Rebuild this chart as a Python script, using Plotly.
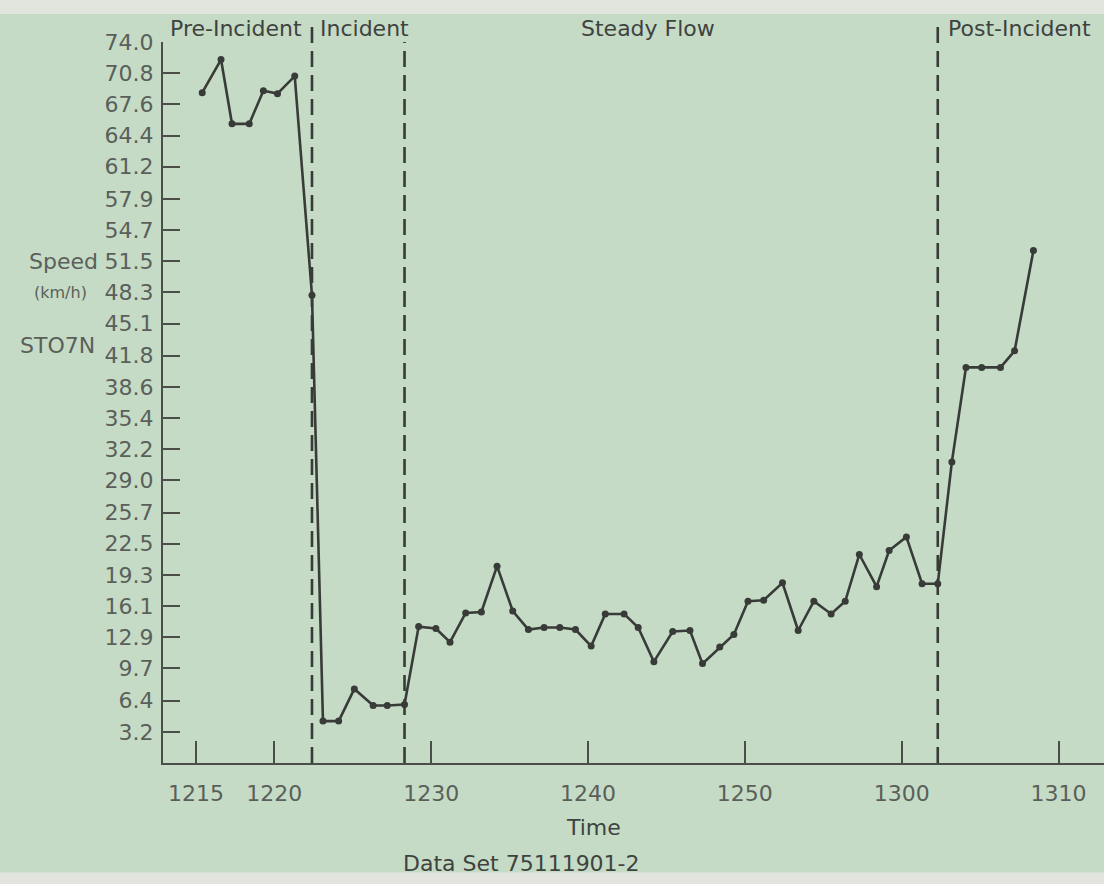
import plotly.graph_objects as go

# time in minutes after 12:00, speed in km/h
times = [15.4, 16.6, 17.3, 18.4, 19.3, 20.2, 21.3, 22.4,
         23.1, 24.1, 25.1, 26.3, 27.2, 28.3,
         29.2, 30.3, 31.2, 32.2, 33.2, 34.2, 35.2, 36.2, 37.2, 38.2,
         39.2, 40.2, 41.1, 42.3, 43.2, 44.2, 45.4, 46.5, 47.3, 48.4,
         49.3, 50.2, 51.2, 52.4, 53.4, 54.4, 55.5, 56.4, 57.3, 58.4,
         59.2, 60.3, 61.3, 62.3,
         63.2, 64.1, 65.1, 66.3, 67.2, 68.4]
speeds = [68.8, 72.2, 65.6, 65.6, 69.0, 68.7, 70.5, 48.0,
          4.3, 4.3, 7.6, 5.9, 5.9, 6.0,
          14.0, 13.8, 12.4, 15.4, 15.5, 20.2, 15.6, 13.7, 13.9, 13.9,
          13.7, 12.0, 15.3, 15.3, 13.9, 10.4, 13.5, 13.6, 10.2, 11.9,
          13.2, 16.6, 16.7, 18.5, 13.6, 16.6, 15.3, 16.6, 21.4, 18.1,
          21.8, 23.2, 18.4, 18.4,
          30.9, 40.6, 40.6, 40.6, 42.3, 52.6]

# phase boundaries: indices of the points where the dashed lines are drawn
boundary_idx = [7, 13, 47]
phase_labels = ["Pre-Incident", "Incident", "Steady Flow", "Post-Incident"]
phase_label_x = [13.2, 22.8, 39.4, 62.8]

y_ticks = [3.2, 6.4, 9.7, 12.9, 16.1, 19.3, 22.5, 25.7, 29.0, 32.2, 35.4,
           38.6, 41.8, 45.1, 48.3, 51.5, 54.7, 57.9, 61.2, 64.4, 67.6, 70.8, 74.0]
x_tickvals = [15, 20, 30, 40, 50, 60, 70]
x_ticktext = ["1215", "1220", "1230", "1240", "1250", "1300", "1310"]

BG = "#c5dbc6"
INK = "#383b38"
TICKTXT = "#5a5f5a"
HEAD = "#3f433f"
FONT = "DejaVu Sans"

fig = go.Figure()
fig.add_trace(go.Scatter(
    x=times, y=speeds, mode="lines+markers",
    line=dict(color=INK, width=2.6),
    marker=dict(color=INK, size=7),
    showlegend=False, hoverinfo="skip"))

# dashed phase boundaries
tops = [1.03, 1.0, 1.03]
for i, top in zip(boundary_idx, tops):
    fig.add_shape(type="line", xref="x", yref="paper",
                  x0=times[i], x1=times[i], y0=0, y1=top,
                  line=dict(color=INK, width=2.6, dash="16px,8px"))

# page edges (lighter paper outside the green tint)
fig.add_shape(type="rect", xref="paper", yref="paper", x0=-0.2, x1=1.05,
              y0=1.039, y1=1.07, fillcolor="#e2e5de", line=dict(width=0), layer="below")
fig.add_shape(type="rect", xref="paper", yref="paper", x0=-0.2, x1=1.05,
              y0=-0.2, y1=-0.152, fillcolor="#e2e5de", line=dict(width=0), layer="below")

for lbl, lx in zip(phase_labels, phase_label_x):
    fig.add_annotation(text=lbl, x=lx, xref="x", y=1.019, yref="paper",
                       xanchor="left", yanchor="middle", showarrow=False,
                       font=dict(family=FONT, size=22, color=HEAD))

# y-axis side labels
fig.add_annotation(text="Speed", x=-0.067, xref="paper", y=51.5, yref="y",
                   xanchor="right", yanchor="middle", showarrow=False,
                   font=dict(family=FONT, size=22, color=TICKTXT))
fig.add_annotation(text="(km/h)", x=-0.079, xref="paper", y=48.3, yref="y",
                   xanchor="right", yanchor="middle", showarrow=False,
                   font=dict(family=FONT, size=16, color=TICKTXT))
fig.add_annotation(text="STO7N", x=-0.070, xref="paper", y=42.8, yref="y",
                   xanchor="right", yanchor="middle", showarrow=False,
                   font=dict(family=FONT, size=22, color=TICKTXT))

# x-axis titles
fig.add_annotation(text="Time", x=0.457, xref="paper", y=-0.09, yref="paper",
                   xanchor="center", yanchor="middle", showarrow=False,
                   font=dict(family=FONT, size=22, color=HEAD))
fig.add_annotation(text="Data Set 75111901-2", x=0.3815, xref="paper", y=-0.139, yref="paper",
                   xanchor="center", yanchor="middle", showarrow=False,
                   font=dict(family=FONT, size=22, color=HEAD))

fig.update_layout(
    width=1104, height=884,
    margin=dict(l=163, r=0, t=42, b=121),
    paper_bgcolor=BG, plot_bgcolor=BG,
    font=dict(family=FONT, size=22, color=TICKTXT),
    xaxis=dict(range=[12.9, 72.9], showgrid=False, zeroline=False,
               showline=True, linecolor="#4a4d4a", linewidth=2,
               ticks="inside", ticklen=22, tickwidth=1.6, tickcolor="#4a4d4a",
               tickvals=x_tickvals, ticktext=x_ticktext,
               ticklabelstandoff=10,
               tickfont=dict(family=FONT, size=22, color=TICKTXT)),
    yaxis=dict(range=[0, 74], showgrid=False, zeroline=False,
               showline=True, linecolor="#4a4d4a", linewidth=2,
               ticks="inside", ticklen=17, tickwidth=1.6, tickcolor="#4a4d4a",
               tickvals=y_ticks, ticktext=[f"{v:.1f}" for v in y_ticks],
               ticklabelstandoff=3,
               tickfont=dict(family=FONT, size=22, color=TICKTXT)),
)

fig.write_html("out.html",
               config={"displayModeBar": False},
               post_script="document.body.style.margin='0px';"
                           "document.body.style.background='#c5dbc6';")
